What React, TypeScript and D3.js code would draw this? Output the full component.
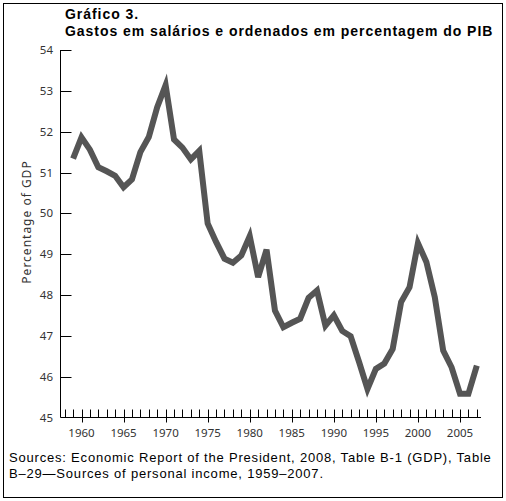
import { useEffect, useRef } from 'react';
import * as d3 from 'd3';

const years: number[] = d3.range(1959, 2008);
const wageShare: number[] = [
  51.34, 51.86, 51.56, 51.13, 51.03, 50.92, 50.64, 50.83, 51.5, 51.87,
  52.6, 53.14, 51.81, 51.61, 51.32, 51.53, 49.75, 49.3, 48.89, 48.79,
  48.97, 49.44, 48.44, 49.11, 47.62, 47.21, 47.32, 47.42, 47.93, 48.11,
  47.25, 47.5, 47.12, 46.99, 46.36, 45.7, 46.19, 46.32, 46.68, 47.83,
  48.19, 49.27, 48.81, 47.95, 46.64, 46.23, 45.58, 45.58, 46.27,
];
const yTicks: number[] = [45, 46, 47, 48, 49, 50, 51, 52, 53, 54];
const xMajor: number[] = [1960, 1965, 1970, 1975, 1980, 1985, 1990, 1995, 2000, 2005];
const xMinor: number[] = d3.range(1958, 2008);

const titleLines = ['Gráfico 3.', 'Gastos em salários e ordenados em percentagem do PIB'];
const sourceLines = [
  'Sources: Economic Report of the President, 2008, Table B-1 (GDP), Table',
  'B–29—Sources of personal income, 1959–2007.',
];

const W = 506;
const H = 501;

const App = () => {
  const svgRef = useRef<SVGSVGElement>(null);

  useEffect(() => {
    const svg = d3.select(svgRef.current);
    svg.selectAll('*').remove();

    // marco exterior
    svg.append('rect')
      .attr('x', 3.5).attr('y', 3.5)
      .attr('width', 499).attr('height', 494)
      .attr('fill', 'white').attr('stroke', 'black').attr('stroke-width', 1);

    // escalas
    const x = d3.scaleLinear().domain([1960, 2005]).range([81.5, 460]);
    const y = d3.scaleLinear().domain([45, 54]).range([417.5, 50]);
    const axisLeft = 60.5;
    const axisBottom = 417.5;

    // titulo
    svg.append('g').selectAll('text')
      .data(titleLines)
      .join('text')
      .attr('x', 65)
      .attr('y', (d, i) => 19 + i * 17)
      .attr('font-family', '"Liberation Sans", Arial, sans-serif')
      .attr('font-weight', 'bold')
      .attr('font-size', '14px')
      .attr('letter-spacing', '0.95px')
      .attr('fill', 'black')
      .text(d => d);

    // eje Y
    svg.append('line')
      .attr('x1', axisLeft).attr('x2', axisLeft)
      .attr('y1', y(54)).attr('y2', axisBottom)
      .attr('stroke', 'black');

    const yg = svg.append('g');
    yg.selectAll('line')
      .data(yTicks.filter(t => t !== 45))
      .join('line')
      .attr('x1', axisLeft).attr('x2', axisLeft + 11)
      .attr('y1', d => Math.round(y(d)) + 0.5)
      .attr('y2', d => Math.round(y(d)) + 0.5)
      .attr('stroke', 'black');
    yg.selectAll('text')
      .data(yTicks)
      .join('text')
      .attr('x', 53)
      .attr('y', d => y(d) + 4)
      .attr('text-anchor', 'end')
      .attr('font-family', '"Noto Sans", "DejaVu Sans", sans-serif')
      .attr('font-size', '11.5px')
      .attr('fill', '#333')
      .text(d => d);

    svg.append('text')
      .attr('transform', `translate(31,${222}) rotate(-90)`)
      .attr('text-anchor', 'middle')
      .attr('font-family', '"Noto Sans", "DejaVu Sans", sans-serif')
      .attr('font-size', '12px')
      .attr('letter-spacing', '1px')
      .attr('fill', '#333')
      .text('Percentage of GDP');

    // eje X
    svg.append('line')
      .attr('x1', axisLeft).attr('x2', 481)
      .attr('y1', axisBottom).attr('y2', axisBottom)
      .attr('stroke', 'black');

    const xg = svg.append('g');
    xg.selectAll('line.minor')
      .data(xMinor)
      .join('line')
      .attr('class', 'minor')
      .attr('x1', d => Math.round(x(d)) + 0.5)
      .attr('x2', d => Math.round(x(d)) + 0.5)
      .attr('y1', axisBottom - 8)
      .attr('y2', d => (xMajor.includes(d) ? axisBottom + 5 : axisBottom))
      .attr('stroke', 'black');
    xg.selectAll('text')
      .data(xMajor)
      .join('text')
      .attr('x', d => x(d))
      .attr('y', 437)
      .attr('text-anchor', 'middle')
      .attr('font-family', '"Noto Sans", "DejaVu Sans", sans-serif')
      .attr('font-size', '11.5px')
      .attr('fill', '#333')
      .text(d => d);

    // serie
    const line = d3.line<number>()
      .x((d, i) => x(years[i]))
      .y(d => y(d));

    svg.append('path')
      .datum(wageShare)
      .attr('d', line)
      .attr('fill', 'none')
      .attr('stroke', '#555')
      .attr('stroke-width', 6)
      .attr('stroke-linejoin', 'miter');

    // fuentes
    svg.append('g').selectAll('text')
      .data(sourceLines)
      .join('text')
      .attr('x', 9)
      .attr('y', (d, i) => 462 + i * 16)
      .attr('font-family', '"Liberation Sans", Arial, sans-serif')
      .attr('font-size', '13px')
      .attr('letter-spacing', '0.8px')
      .attr('fill', 'black')
      .text(d => d);
  }, []);

  return (
    <svg
      ref={svgRef}
      width={W}
      height={H}
      style={{ position: 'absolute', left: 0, top: 0, background: 'white' }}
    />
  );
};

export default App;
